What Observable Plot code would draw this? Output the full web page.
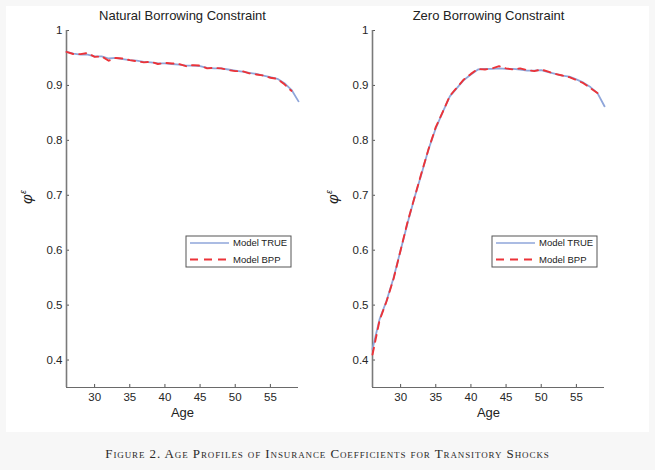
<!DOCTYPE html>
<html>
<head>
<meta charset="utf-8">
<script src="https://cdn.jsdelivr.net/npm/d3@7"></script>
<script src="https://cdn.jsdelivr.net/npm/@observablehq/plot@0.6"></script>
<style>
  html, body { margin: 0; padding: 0; background: #f7f7f7; }
  #page { position: relative; width: 655px; height: 470px; overflow: hidden; }
  #paper { position: absolute; left: 6px; top: 6px; width: 643px; height: 426px; background: #fff; }
  .panel { position: absolute; top: 0; }
  #caption { position: absolute; left: 0; width: 655px; top: 446px; text-align: center;
    font-family: "Liberation Serif", "Times New Roman", serif; font-variant: small-caps;
    font-size: 13px; letter-spacing: 0.9px; color: #2a2a2a; }
</style>
</head>
<body>
<div id="page">
  <div id="paper"></div>
  <div id="left" class="panel" style="left:0px"></div>
  <div id="right" class="panel" style="left:306px"></div>
  <div id="caption">Figure 2. Age Profiles of Insurance Coefficients for Transitory Shocks</div>
</div>
<script>
// ---- data ----
const ages = [26,27,28,29,30,31,32,33,34,35,36,37,38,39,40,41,42,43,44,45,46,47,48,49,50,51,52,53,54,55,56,57,58,59];
const natTrue = [0.961,0.958,0.956,0.956,0.953,0.953,0.949,0.950,0.948,0.946,0.945,0.943,0.942,0.940,0.940,0.939,0.938,0.936,0.936,0.935,0.932,0.931,0.931,0.929,0.927,0.925,0.923,0.921,0.918,0.915,0.912,0.904,0.892,0.871];
const natBPP  = [0.961,0.957,0.957,0.959,0.952,0.953,0.945,0.950,0.949,0.946,0.944,0.942,0.943,0.939,0.941,0.940,0.939,0.935,0.937,0.936,0.931,0.932,0.931,0.928,0.926,0.926,0.922,0.920,0.918,0.914,0.912,0.902,0.890];
const zeroTrue = [0.420,0.474,0.508,0.550,0.600,0.650,0.697,0.740,0.785,0.822,0.852,0.880,0.895,0.910,0.920,0.929,0.930,0.930,0.931,0.930,0.930,0.929,0.927,0.927,0.928,0.924,0.921,0.918,0.916,0.911,0.905,0.897,0.886,0.862];
const zeroBPP  = [0.410,0.472,0.507,0.548,0.600,0.652,0.697,0.742,0.785,0.824,0.852,0.881,0.896,0.911,0.921,0.930,0.929,0.931,0.935,0.931,0.929,0.931,0.928,0.926,0.929,0.925,0.921,0.918,0.915,0.910,0.904,0.895,0.886];
const titles = ["Natural Borrowing Constraint", "Zero Borrowing Constraint"];
const seriesNames = ["Model TRUE", "Model BPP"];
const xTicks = [30,35,40,45,50,55];
const yTicks = [0.4,0.5,0.6,0.7,0.8,0.9,1];
const xLabel = "Age";

const BLUE = "#8fa6da", RED = "#ec3338";
const FONT = "'Liberation Sans', Arial, Helvetica, sans-serif";

function panel(el, title, trueVals, bppVals) {
  const dTrue = trueVals.map((v, i) => ({age: ages[i], v}));
  const dBpp = bppVals.map((v, i) => ({age: ages[i], v}));
  const svg = Plot.plot({
    width: 327, height: 430,
    marginLeft: 66, marginRight: 29, marginTop: 30, marginBottom: 43,
    style: {background: "transparent", fontFamily: FONT, color: "#262626", fontSize: "11.5px"},
    x: {domain: [26, 59]},
    y: {domain: [0.35, 1]},
    marks: [
      Plot.axisY({ticks: yTicks, tickSize: 0, tickPadding: 4, tickFormat: d3.format("~g"), label: null, fontSize: 11.5}),
      Plot.axisX({ticks: xTicks, tickSize: 0, tickPadding: 5, label: null, fontSize: 11.5}),
      Plot.ruleY(yTicks, {y: d => d, x1: 26, x2: 26.43, stroke: "#555"}),
      Plot.ruleX(xTicks, {x: d => d, y1: 0.35, y2: 0.3555, stroke: "#555"}),
      Plot.ruleX([26], {stroke: "#7a7a7a", strokeWidth: 1.6}),
      Plot.ruleY([0.35], {stroke: "#6a6a6a", strokeWidth: 1.2}),
      Plot.line(dTrue, {x: "age", y: "v", stroke: BLUE, strokeWidth: 1.8}),
      Plot.line(dBpp, {x: "age", y: "v", stroke: RED, strokeWidth: 1.9, strokeDasharray: "7,6"}),
      Plot.text([title], {frameAnchor: "top", dy: -20, fontSize: 13, fill: "#222"}),
      Plot.text([xLabel], {frameAnchor: "bottom", dy: 29, fontSize: 13, fill: "#222"})
    ]
  });
  const s = d3.select(svg);
  // y axis label phi^epsilon
  const yl = s.append("text")
    .attr("transform", "translate(32,197) rotate(-90)")
    .attr("text-anchor", "middle")
    .attr("font-family", FONT)
    .attr("font-style", "italic")
    .attr("font-size", 15)
    .attr("fill", "#222")
    .text("φ");
  yl.append("tspan").attr("dy", -6).attr("font-size", 9).text("ε");
  // legend
  const g = s.append("g").attr("transform", "translate(186,236)");
  g.append("rect").attr("width", 105).attr("height", 31).attr("fill", "#fff").attr("stroke", "#555").attr("stroke-width", 1);
  g.append("line").attr("x1", 4).attr("x2", 43).attr("y1", 7).attr("y2", 7).attr("stroke", BLUE).attr("stroke-width", 1.4);
  g.append("line").attr("x1", 4).attr("x2", 43).attr("y1", 23.5).attr("y2", 23.5).attr("stroke", RED).attr("stroke-width", 2).attr("stroke-dasharray", "8,6");
  seriesNames.forEach((n, i) => {
    g.append("text").attr("x", 47).attr("y", i ? 23.5 : 7).attr("dy", "0.35em")
      .attr("font-family", FONT).attr("font-size", 9.5).attr("fill", "#222")
      .attr("text-anchor", "start").text(n);
  });
  document.getElementById(el).appendChild(svg);
}
panel("left", titles[0], natTrue, natBPP);
panel("right", titles[1], zeroTrue, zeroBPP);
</script>
</body>
</html>
